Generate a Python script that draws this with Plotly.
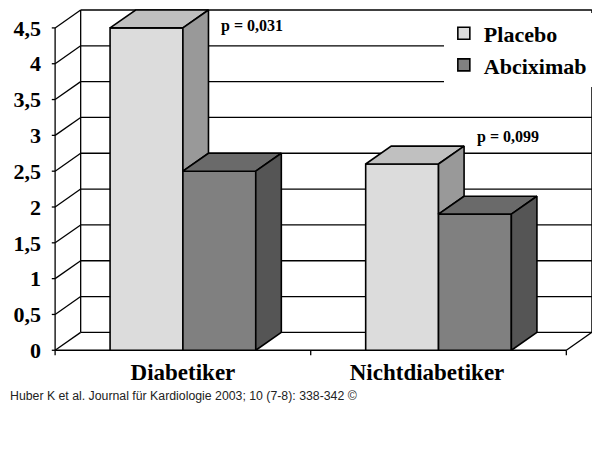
import plotly.graph_objects as go

# values
categories = ["Diabetiker", "Nichtdiabetiker"]
placebo = [4.5, 2.6]
abciximab = [2.5, 1.9]
y_ticks = [0, 0.5, 1, 1.5, 2, 2.5, 3, 3.5, 4, 4.5]
p_values = ["p = 0,031", "p = 0,099"]
source = "Huber K et al. Journal für Kardiologie 2003; 10 (7-8): 338-342 ©"

# fake 3d geometry (axis units)
dx, dy = 0.1, 0.25      # depth offset of the back wall
bar_w = 0.285
x_lo, x_hi = -0.5, 1.5  # front edge of the floor
y_top = max(y_ticks)

serif = "Liberation Serif"
series = [
    ("Placebo", placebo, -bar_w, "#DCDCDC", "#C0C0C0", "#999999"),
    ("Abciximab", abciximab, 0.0, "#808080", "#6A6A6A", "#555555"),
]

fig = go.Figure()

# walls, floor and grid (drawn below the traces)
line_k = dict(color="black", width=1.3)
shapes = []
for v in y_ticks:
    # back wall gridline
    shapes.append(dict(type="line", x0=x_lo + dx, x1=x_hi + dx, y0=v + dy, y1=v + dy, line=line_k))
    # left wall diagonal
    shapes.append(dict(type="line", x0=x_lo, x1=x_lo + dx, y0=v, y1=v + dy, line=line_k))
    # tick on the front axis
    shapes.append(dict(type="line", x0=x_lo - 0.013, x1=x_lo, y0=v, y1=v, line=line_k))
shapes.append(dict(type="line", x0=x_lo + dx, x1=x_lo + dx, y0=dy, y1=y_top + dy, line=line_k))
shapes.append(dict(type="line", x0=x_hi + dx, x1=x_hi + dx, y0=dy, y1=y_top + dy, line=line_k))
shapes.append(dict(type="line", x0=x_lo, x1=x_lo, y0=0, y1=y_top, line=line_k))
shapes.append(dict(type="line", x0=x_lo, x1=x_hi, y0=0, y1=0, line=line_k))
shapes.append(dict(type="line", x0=x_hi, x1=x_hi + dx, y0=0, y1=dy, line=line_k))
for xc in [x_lo, x_lo + 1, x_hi]:
    shapes.append(dict(type="line", x0=xc, x1=xc, y0=0, y1=-0.07, line=line_k))
for s in shapes:
    s["layer"] = "below"

# front faces
for name, vals, off, c_front, c_top, c_side in series:
    fig.add_trace(go.Bar(
        name=name, x=list(range(len(categories))), y=vals,
        offset=off, width=bar_w,
        marker=dict(color=c_front, line=dict(color="black", width=1.6)),
        hoverinfo="skip",
    ))

# top and side faces
for i in range(len(categories)):
    for k, (name, vals, off, c_front, c_top, c_side) in enumerate(series):
        v = vals[i]
        xl = i + off
        xr = xl + bar_w
        fig.add_trace(go.Scatter(
            x=[xl, xr, xr + dx, xl + dx, xl], y=[v, v, v + dy, v + dy, v],
            mode="lines", fill="toself", fillcolor=c_top,
            line=dict(color="black", width=1.6), showlegend=False, hoverinfo="skip",
        ))
        # side face is hidden below the next bar's top
        low = 0
        if k + 1 < len(series):
            low = min(v, series[k + 1][1][i])
        if low < v:
            fig.add_trace(go.Scatter(
                x=[xr, xr + dx, xr + dx, xr, xr], y=[v, v + dy, low + dy, low, v],
                mode="lines", fill="toself", fillcolor=c_side,
                line=dict(color="black", width=1.6), showlegend=False, hoverinfo="skip",
            ))

annotations = []
for i, txt in enumerate(p_values):
    top = max(placebo[i], abciximab[i])
    annotations.append(dict(
        x=i + 0.27, y=top + 0.03 if i == 0 else top + 0.38, text=txt, showarrow=False,
        font=dict(family=serif, size=16, color="black", weight="bold"),
    ))
annotations.append(dict(
    x=-42 / 547, y=-0.116, xref="paper", yref="paper", xanchor="left", yanchor="middle",
    text=source, showarrow=False,
    font=dict(family="Liberation Sans", size=12.3, color="#222222"),
))

fig.update_layout(
    width=600, height=449,
    margin=dict(l=42, r=11, t=0, b=101),
    paper_bgcolor="white", plot_bgcolor="white",
    barmode="overlay",
    shapes=shapes,
    annotations=annotations,
    showlegend=True,
    legend=dict(
        x=0.72, y=0.987, xanchor="left", yanchor="top",
        bgcolor="white", borderwidth=0, tracegroupgap=0,
        font=dict(family=serif, size=22, color="black", weight="bold"),
    ),
    xaxis=dict(
        range=[x_lo - 0.02, x_hi + dx + 0.02],
        tickvals=[0, 0.955], ticktext=categories,
        showgrid=False, zeroline=False, showline=False, ticks="",
        tickfont=dict(family=serif, size=23, color="black", weight="bold"),
    ),
    yaxis=dict(
        range=[-0.08, y_top + dy + 0.028],
        tickvals=y_ticks, ticktext=[f"{v:g}".replace(".", ",") for v in y_ticks],
        showgrid=False, zeroline=False, showline=False, ticks="",
        ticklabelstandoff=8,
        tickfont=dict(family=serif, size=22, color="black", weight="bold"),
    ),
)

fig.write_html("out.html")
